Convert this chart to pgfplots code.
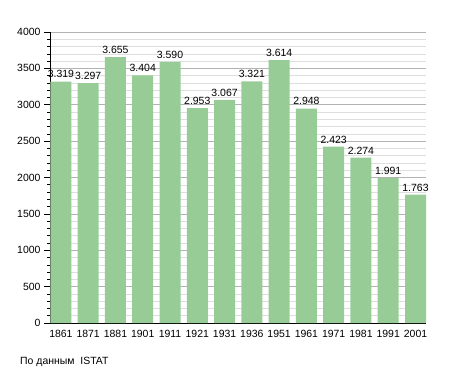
\documentclass[border=0pt]{standalone}
\usepackage{fontspec}
\setmainfont{Liberation Sans}
\usepackage{pgfplots}
\pgfplotsset{compat=1.18}
\definecolor{barg}{RGB}{151,204,151}
\definecolor{gridg}{RGB}{222,222,222}
\definecolor{gridm}{RGB}{178,178,178}
\begin{document}
\begin{tikzpicture}
\useasboundingbox (-50bp,-50bp) rectangle (405bp,323bp);
\begin{axis}[
  at={(0,0)}, anchor=south west,
  scale only axis, width=376bp, height=291bp,
  xmin=-0.4, xmax=13.385, ymin=0, ymax=4000,
  axis x line*=bottom, axis y line*=left,
  axis line style={black, line width=0.9pt, -},
  xtick={0,...,13},
  xticklabels={1861,1871,1881,1901,1911,1921,1931,1936,1951,1961,1971,1981,1991,2001},
  xtick style={draw=none},
  ytick={0,500,...,4000},
  minor ytick={0,100,...,4000},
  tick align=outside,
  major tick length=6bp, minor tick length=3bp,
  every tick/.style={black, line width=0.6pt},
  ymajorgrids, yminorgrids,
  major grid style={gridm, line width=0.6pt},
  minor grid style={gridg, line width=0.5pt},
  /pgf/number format/assume math mode=true,
  yticklabel={\pgfmathprintnumber[1000 sep={}]{\tick}},
  ticklabel style={font=\fontsize{10.5}{12}\selectfont},
  xticklabel style={yshift=2bp},
  ybar, bar width=0.77, bar shift=0pt,
  nodes near coords,
  point meta=explicit symbolic,
  every node near coord/.append style={font=\fontsize{10.5}{12}\selectfont, black, yshift=0bp},
  clip=false,
]
\addplot[fill=barg, draw=none] coordinates {
(0,3319)[3.319] (1,3297)[3.297] (2,3655)[3.655] (3,3404)[3.404] (4,3590)[3.590]
(5,2953)[2.953] (6,3067)[3.067] (7,3321)[3.321] (8,3614)[3.614] (9,2948)[2.948]
(10,2423)[2.423] (11,2274)[2.274] (12,1991)[1.991] (13,1763)[1.763]};
\end{axis}
\node[anchor=west, font=\fontsize{10.5}{12}\selectfont, inner sep=0pt] at (-30bp,-39bp) {По данным\ \ ISTAT};
\end{tikzpicture}
\end{document}
